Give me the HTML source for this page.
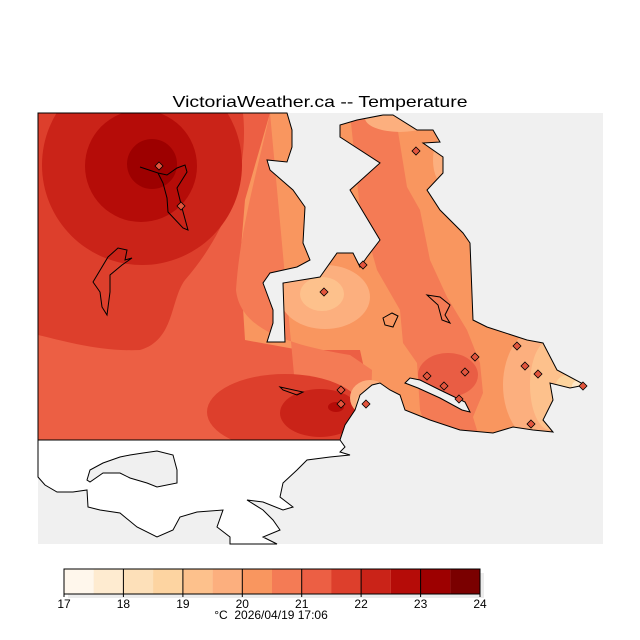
<!DOCTYPE html>
<html><head><meta charset="utf-8"><style>
html,body{margin:0;padding:0;background:#fff;}
svg{display:block;font-family:"Liberation Sans",sans-serif;}
</style></head><body>
<svg width="640" height="640" viewBox="0 0 640 640" xmlns="http://www.w3.org/2000/svg">
<defs>
<clipPath id="land"><path id="landp" d="M38,113 L287,113 L292,130 L292,147 L287,162 L267,160 L270,170 L293,190 L305,207 L303,243 L310,260 L297,267 L270,273 L263,283 L273,310 L273,323 L267,342 L285,342 L283,283 L320,277 L337,253 L353,253 L360,267 L367,257 L380,240 L350,190 L380,163 L340,137 L340,125 L357,120 L383,115 L393,115 L417,130 L433,130 L440,142 L423,143 L443,157 L443,173 L427,190 L440,210 L463,233 L470,243 L473,320 L487,327 L527,340 L543,343 L557,370 L585,385 L570,388 L550,383 L553,400 L543,420 L553,432 L533,430 L513,427 L493,433 L460,430 L430,420 L405,410 L400,395 L390,390 L380,383 L372,385 L360,395 L355,410 L345,425 L340,440 L38,440 Z"/></clipPath>
</defs>
<rect x="38" y="113" width="565" height="431" fill="#f0f0f0"/>
<path d="M38,440 L340,440 L345,447 L340,452 L350,455 L330,457 L307,460 L297,470 L283,483 L280,497 L293,507 L283,510 L263,502 L247,500 L263,510 L273,520 L280,530 L263,537 L277,544 L230,544 L230,537 L217,527 L223,510 L197,512 L180,517 L173,530 L157,537 L137,527 L120,513 L100,510 L88,507 L87,490 L73,492 L57,492 L45,485 L38,477 Z" fill="#fff" stroke="#000" stroke-width="1"/>
<path d="M87,480 L90,470 L103,463 L120,457 L130,455 L143,453 L157,451 L173,455 L177,470 L177,483 L157,487 L147,483 L130,478 L120,473 L103,473 L90,482 Z" fill="#f0f0f0" stroke="#000" stroke-width="1"/>
<g clip-path="url(#land)">
<rect x="38" y="113" width="560" height="330" fill="#f9965f"/>
<path d="M38,113 L270,113 L245,200 L240,260 L245,340 L300,350 L360,350 L380,440 L38,440 Z" fill="#ec5f44"/>
<path d="M270,113 C255,180 240,230 236,290 C240,330 290,345 350,355 L372,370 L370,440 L300,440 Z" fill="#f47b55"/>
<path d="M38,113 L243,113 C250,180 220,240 185,280 C170,300 175,340 140,350 C100,352 60,340 38,335 Z" fill="#dd3f2c"/>
<circle cx="142" cy="165" r="100" fill="#ca2318"/>
<circle cx="141" cy="166" r="56" fill="#b50c08"/>
<circle cx="152" cy="164" r="25" fill="#9d0000"/>
<ellipse cx="285" cy="412" rx="78" ry="38" fill="#dd3f2c"/>
<ellipse cx="320" cy="413" rx="40" ry="24" fill="#ca2318"/>
<ellipse cx="336" cy="407" rx="8" ry="5" fill="#b50c08"/>
<path d="M340,113 L350,113 L360,210 L377,270 L400,310 L403,343 L417,363 L420,410 L430,440 L480,440 L473,417 L483,393 L480,363 L467,330 L447,297 L430,260 L420,210 L407,187 L395,113 Z" fill="#f47b55"/>
<ellipse cx="448" cy="375" rx="30" ry="22" fill="#e95d44"/>
<ellipse cx="325" cy="297" rx="45" ry="32" fill="#fcaf7e"/>
<ellipse cx="322" cy="294" rx="22" ry="17" fill="#fdc18c"/>
<ellipse cx="370" cy="398" rx="20" ry="18" fill="#fcaf7e"/>
<ellipse cx="365" cy="402" rx="9" ry="8" fill="#fdc18c"/>
<ellipse cx="400" cy="118" rx="35" ry="14" fill="#fcaf7e"/>
<ellipse cx="445" cy="160" rx="12" ry="25" fill="#fcaf7e"/>
<ellipse cx="545" cy="385" rx="42" ry="60" fill="#fcaf7e"/>
<ellipse cx="550" cy="385" rx="20" ry="45" fill="#fdc18c"/>
<ellipse cx="568" cy="385" rx="12" ry="10" fill="#fdd49e"/>
<ellipse cx="580" cy="386" rx="8" ry="6" fill="#fee8c8"/>
</g>
<use href="#landp" fill="none" stroke="#000" stroke-width="1"/>
<path d="M405,383 L410,378 L420,380 L440,390 L465,402 L470,412 L462,410 L440,398 L418,388 Z" fill="#f0f0f0" stroke="#000" stroke-width="1"/>
<g fill="none" stroke="#000" stroke-width="1">
<path d="M140,167 L158,173 L167,175 L177,168 L185,165 L187,172 L177,188 L182,208 L188,230 L183,228 L168,212 L167,198 L163,183 L158,173"/>
<path d="M93,282 L108,257 L118,248 L127,250 L125,260 L132,258 L122,265 L110,275 L110,292 L107,315 L102,307 L100,292 Z"/>
<path d="M280,387 L303,392 L297,395 L283,390 Z"/>
<path d="M427,295 L440,297 L450,305 L445,315 L450,323 L442,320 L438,305 Z"/>
<path d="M383,318 L392,313 L398,316 L393,327 L385,325 Z"/>
</g>
<g fill="#e2553d" stroke="#000" stroke-width="0.8">
<path d="M159,162 l4,4 -4,4 -4,-4z"/><path d="M181,202 l4,4 -4,4 -4,-4z"/>
<path d="M416,147 l4,4 -4,4 -4,-4z"/><path d="M363,261 l4,4 -4,4 -4,-4z"/>
<path d="M324,288 l4,4 -4,4 -4,-4z"/><path d="M475,353 l4,4 -4,4 -4,-4z"/>
<path d="M517,342 l4,4 -4,4 -4,-4z"/><path d="M525,362 l4,4 -4,4 -4,-4z"/>
<path d="M538,370 l4,4 -4,4 -4,-4z"/><path d="M465,368 l4,4 -4,4 -4,-4z"/>
<path d="M427,372 l4,4 -4,4 -4,-4z"/><path d="M444,382 l4,4 -4,4 -4,-4z"/>
<path d="M459,395 l4,4 -4,4 -4,-4z"/><path d="M341,386 l4,4 -4,4 -4,-4z"/>
<path d="M341,400 l4,4 -4,4 -4,-4z"/><path d="M366,400 l4,4 -4,4 -4,-4z"/>
<path d="M583,382 l4,4 -4,4 -4,-4z"/><path d="M531,420 l4,4 -4,4 -4,-4z"/>
</g>
<text x="320" y="107" text-anchor="middle" font-size="16" textLength="295" lengthAdjust="spacingAndGlyphs">VictoriaWeather.ca -- Temperature</text>
<rect x="68" y="573" width="416" height="25" fill="#ececec"/>
<g stroke="none">
<rect x="64.0" y="569" width="29.8" height="25" fill="#fff7ec"/>
<rect x="93.7" y="569" width="29.8" height="25" fill="#feebd0"/>
<rect x="123.4" y="569" width="29.8" height="25" fill="#fde0b9"/>
<rect x="153.1" y="569" width="29.8" height="25" fill="#fdd4a1"/>
<rect x="182.9" y="569" width="29.8" height="25" fill="#fdc18c"/>
<rect x="212.6" y="569" width="29.8" height="25" fill="#fcaf7e"/>
<rect x="242.3" y="569" width="29.8" height="25" fill="#f9965f"/>
<rect x="272.0" y="569" width="29.8" height="25" fill="#f47b55"/>
<rect x="301.7" y="569" width="29.8" height="25" fill="#ec5f44"/>
<rect x="331.4" y="569" width="29.8" height="25" fill="#dd3f2c"/>
<rect x="361.1" y="569" width="29.8" height="25" fill="#ca2318"/>
<rect x="390.9" y="569" width="29.8" height="25" fill="#b50c08"/>
<rect x="420.6" y="569" width="29.8" height="25" fill="#9d0000"/>
<rect x="450.3" y="569" width="29.7" height="25" fill="#7a0000"/>
</g>
<rect x="64" y="569" width="416" height="25" fill="none" stroke="#000" stroke-width="1"/>
<g stroke="#000" stroke-width="1">
<line x1="123.4" y1="569" x2="123.4" y2="597"/><line x1="182.9" y1="569" x2="182.9" y2="597"/>
<line x1="242.3" y1="569" x2="242.3" y2="597"/><line x1="301.7" y1="569" x2="301.7" y2="597"/>
<line x1="361.1" y1="569" x2="361.1" y2="597"/><line x1="420.6" y1="569" x2="420.6" y2="597"/>
<line x1="64" y1="569" x2="64" y2="597"/><line x1="480" y1="569" x2="480" y2="597"/>
</g>
<g font-size="12" text-anchor="middle">
<text x="64" y="608">17</text><text x="123.4" y="608">18</text><text x="182.9" y="608">19</text>
<text x="242.3" y="608">20</text><text x="301.7" y="608">21</text><text x="361.1" y="608">22</text>
<text x="420.6" y="608">23</text><text x="480" y="608">24</text>
<text x="271" y="619" xml:space="preserve">°C  2026/04/19 17:06</text>
</g>
</svg>
</body></html>
